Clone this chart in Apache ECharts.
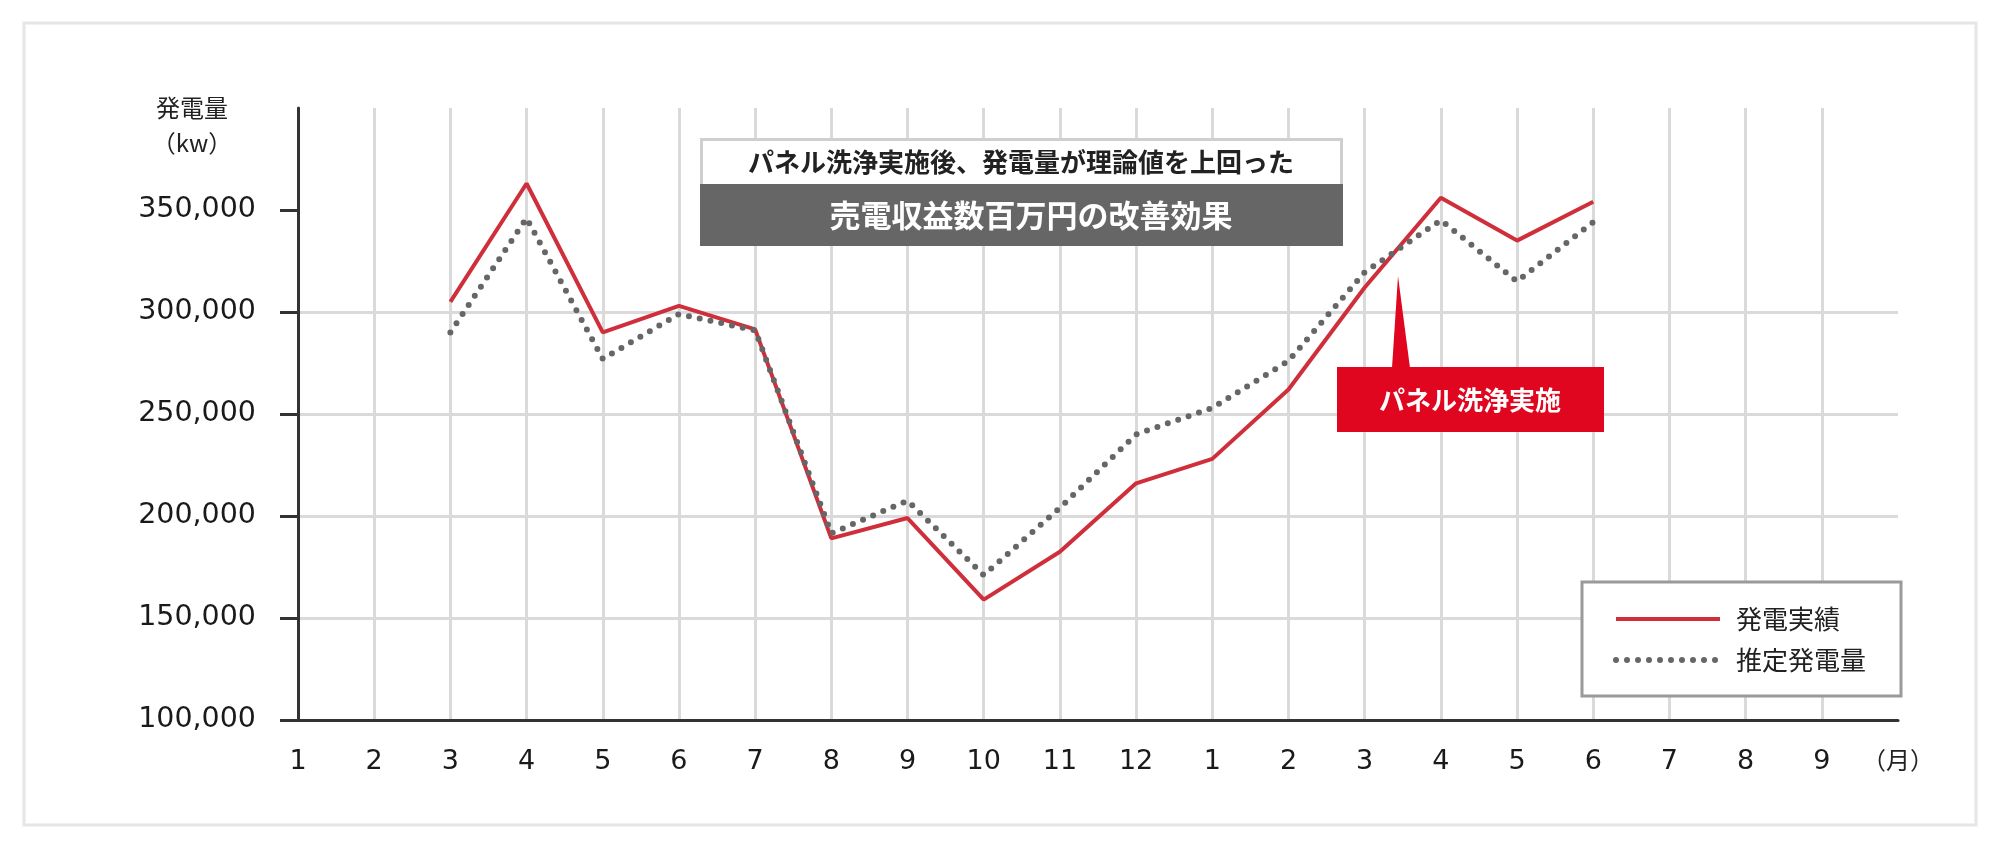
<!DOCTYPE html>
<html>
<head>
<meta charset="utf-8">
<script src="https://cdn.jsdelivr.net/npm/echarts@6/dist/echarts.min.js"></script>
<style>html,body{margin:0;padding:0;background:#fff}#c{width:2000px;height:850px}</style>
</head>
<body>
<div id="c"></div>
<script>
const months = ['1','2','3','4','5','6','7','8','9','10','11','12','1','2','3','4','5','6','7','8','9','（月）'];
const actual = [null,null,305000,363000,290000,303000,291500,189000,199000,159000,182500,216000,228000,262000,312000,356000,335000,354000,null,null,null,null];
const estimated = [null,null,290000,346000,277000,299000,291000,191500,207500,171000,204000,240000,253000,276000,319500,345000,315000,344000,null,null,null,null];
const yTicks = [100000,150000,200000,250000,300000,350000];
const seriesNames = ['発電実績','推定発電量'];
const yName = ['発電量','（kw）'];
const noteTop = 'パネル洗浄実施後、発電量が理論値を上回った';
const noteMain = '売電収益数百万円の改善効果';
const callout = 'パネル洗浄実施';

const JP = '"Noto Sans CJK JP", "Noto Sans", sans-serif';
const NUM = '"DejaVu Sans", "Noto Sans CJK JP", sans-serif';
const RED = '#cf2f3b';
const GREY = '#666666';
const dotted = {color: GREY, width: 6, type: [0, 11], cap: 'round'};
const solid = {color: RED, width: 4};

const chart = echarts.init(document.getElementById('c'), null, {renderer: 'canvas'});
chart.setOption({
  animation: false,
  backgroundColor: '#fff',
  grid: {left: 298, right: 102, top: 108, bottom: 130, containLabel: false},
  xAxis: {
    type: 'category', data: months, boundaryGap: false,
    axisLine: {lineStyle: {color: '#333', width: 3}},
    axisTick: {show: false},
    axisLabel: {
      interval: 0, margin: 28, fontSize: 27, color: '#1a1a1a', fontFamily: NUM,
      formatter: v => v === '（月）' ? '{u|' + v + '}' : v,
      rich: {u: {fontFamily: JP, fontSize: 24, color: '#222'}}
    },
    splitLine: {show: true, interval: 0, showMaxLine: false, lineStyle: {color: '#dadada', width: 3}}
  },
  yAxis: {
    type: 'value', min: 100000, max: 400000, interval: 50000,
    axisLine: {show: true, lineStyle: {color: '#333', width: 3}},
    axisTick: {show: true, length: 18, customValues: yTicks, lineStyle: {color: '#333', width: 3}},
    axisLabel: {
      customValues: yTicks, margin: 42, fontSize: 28.5, color: '#1a1a1a', fontFamily: NUM,
      formatter: v => String(v).replace(/\B(?=(\d{3})+(?!\d))/g, ',')
    },
    splitLine: {show: true, showMaxLine: false, showMinLine: false, lineStyle: {color: '#dadada', width: 3}}
  },
  legend: {
    data: [
      {name: seriesNames[0], lineStyle: solid},
      {name: seriesNames[1], lineStyle: dotted}
    ],
    left: 1582, top: 582, orient: 'vertical', selectedMode: false,
    itemWidth: 104, itemHeight: 26, itemGap: 15,
    padding: [24, 35, 23, 31],
    borderColor: '#9a9a9a', borderWidth: 3, backgroundColor: '#fff',
    itemStyle: {opacity: 0},
    textStyle: {fontSize: 26, color: '#222', fontFamily: JP, fontWeight: 'normal', padding: [0, 0, 0, 11]}
  },
  series: [
    {name: seriesNames[0], type: 'line', data: actual, symbol: 'none', z: 3,
     lineStyle: solid, itemStyle: {color: RED}},
    {name: seriesNames[1], type: 'line', data: estimated, symbol: 'none', z: 4,
     lineStyle: dotted, itemStyle: {color: GREY}}
  ],
  graphic: {elements: [
    {type: 'rect', z: -10, shape: {x: 24, y: 23, width: 1952, height: 802}, style: {fill: 'none', stroke: '#e6e6e6', lineWidth: 3}},
    {type: 'text', z: 100, style: {text: yName[0], x: 192, y: 108, align: 'center', verticalAlign: 'middle', font: '24px ' + JP, fill: '#222'}},
    {type: 'text', z: 100, style: {text: yName[1], x: 192, y: 143, align: 'center', verticalAlign: 'middle', font: '24px ' + JP, fill: '#222'}},
    {type: 'rect', z: 100, shape: {x: 701.5, y: 139.5, width: 640, height: 46}, style: {fill: '#fff', stroke: '#cfcfcf', lineWidth: 3}},
    {type: 'text', z: 101, style: {text: noteTop, x: 1021, y: 162, align: 'center', verticalAlign: 'middle', font: 'bold 26px ' + JP, fill: '#222'}},
    {type: 'rect', z: 101, shape: {x: 700, y: 184, width: 643, height: 62}, style: {fill: '#666666'}},
    {type: 'text', z: 102, style: {text: noteMain, x: 1031, y: 215, align: 'center', verticalAlign: 'middle', font: 'bold 31px ' + JP, fill: '#fff'}},
    {type: 'polygon', z: 100, shape: {points: [[1398, 276], [1392, 368], [1410, 368]]}, style: {fill: '#e0061f'}},
    {type: 'rect', z: 100, shape: {x: 1337, y: 367, width: 267, height: 65}, style: {fill: '#e0061f'}},
    {type: 'text', z: 101, style: {text: callout, x: 1470, y: 400, align: 'center', verticalAlign: 'middle', font: 'bold 26px ' + JP, fill: '#fff'}}
  ]}
});
</script>
</body>
</html>
